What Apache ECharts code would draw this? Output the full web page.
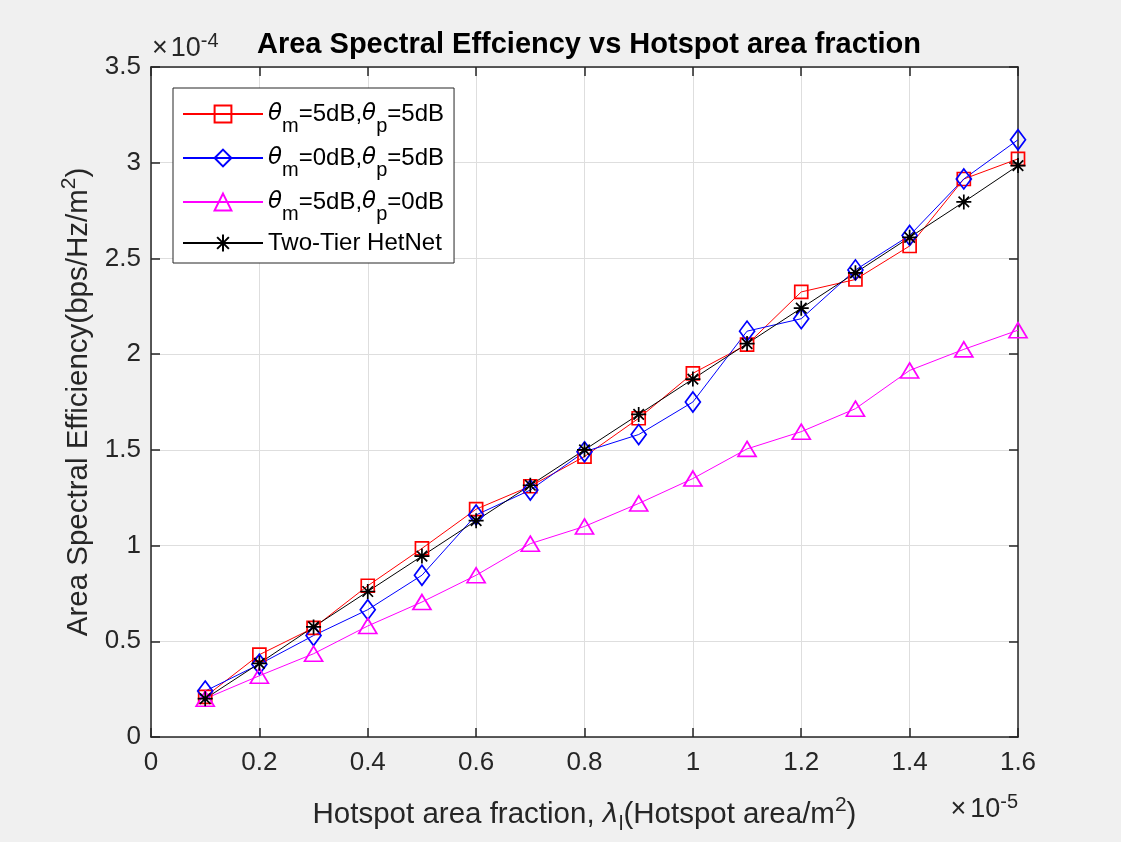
<!DOCTYPE html>
<html>
<head>
<meta charset="utf-8">
<script src="https://cdn.jsdelivr.net/npm/echarts@6/dist/echarts.min.js"></script>
<style>
html,body{margin:0;padding:0;background:#f0f0f0;}
#chart{width:1121px;height:842px;}
</style>
</head>
<body>
<div id="chart"></div>
<script>
// ---- data (x in units of 1e-5, y in units of 1e-4) ----
const xValues = [0.1, 0.2, 0.3, 0.4, 0.5, 0.6, 0.7, 0.8, 0.9, 1.0, 1.1, 1.2, 1.3, 1.4, 1.5, 1.6];
const redValues = [0.21, 0.43, 0.57, 0.79, 0.985, 1.19, 1.31, 1.465, 1.665, 1.90, 2.05, 2.325, 2.39, 2.565, 2.915, 3.02];
const blueValues = [0.24, 0.38, 0.53, 0.665, 0.845, 1.16, 1.29, 1.49, 1.58, 1.75, 2.12, 2.185, 2.44, 2.62, 2.915, 3.12];
const magentaValues = [0.20, 0.32, 0.435, 0.58, 0.705, 0.845, 1.01, 1.10, 1.22, 1.35, 1.505, 1.595, 1.715, 1.915, 2.025, 2.125];
const blackValues = [0.20, 0.385, 0.575, 0.76, 0.945, 1.13, 1.315, 1.50, 1.685, 1.87, 2.055, 2.24, 2.425, 2.61, 2.795, 2.985];
const seriesNames = ['s1', 's2', 's3', 's4'];
const legendTexts = {
  s1: '{th|θ}{sub|m}{t|=5dB,}{th|θ}{sub|p}{t|=5dB}',
  s2: '{th|θ}{sub|m}{t|=0dB,}{th|θ}{sub|p}{t|=5dB}',
  s3: '{th|θ}{sub|m}{t|=5dB,}{th|θ}{sub|p}{t|=0dB}',
  s4: '{t2|Two-Tier HetNet}'
};
const titleText = 'Area Spectral Effciency vs Hotspot area fraction';
const xTitle = '{t|Hotspot area fraction, }{it|λ}{sub|l}{t|(Hotspot area/m}{sup|2}{t|)}';
const yTitle = '{t|Area Spectral Efficiency(bps/Hz/m}{sup|2}{t|)}';

const FONT = '"Liberation Sans", Arial, Helvetica, sans-serif';
const AX = '#262626';

function pairs(ys){ return xValues.map((x,i)=>[x, ys[i]]); }
const fmt = v => String(+v.toFixed(2));

const asterisk = 'path://M8,0 L8,16 M0,8 L16,8 M2.4,2.4 L13.6,13.6 M2.4,13.6 L13.6,2.4';

function mkSeries(name, ys, color, symbol, size){
  return {
    name: name, type: 'line', data: pairs(ys),
    symbol: symbol, symbolSize: size, showSymbol: true,
    lineStyle: {color: color, width: 1},
    itemStyle: {color: 'rgba(255,255,255,0)', borderColor: color, borderWidth: 1.7},
    emphasis: {disabled: true},
    animation: false, z: 3
  };
}

const chart = echarts.init(document.getElementById('chart'));
const option = {
  backgroundColor: '#f0f0f0',
  animation: false,
  title: {
    text: titleText, left: 584, top: 25, textAlign: 'center',
    textStyle: {fontFamily: FONT, fontWeight: 'bold', fontSize: 29, color: '#000'}
  },
  grid: {left: 151, right: 103, top: 67, bottom: 105, show: true, backgroundColor: '#ffffff', borderWidth: 0},
  legend: {
    orient: 'vertical', left: 173, top: 88,
    backgroundColor: '#ffffff', borderColor: AX, borderWidth: 1,
    padding: [4, 10, 1, 9], itemGap: 0, itemWidth: 80, itemHeight: 21,
    data: seriesNames,
    formatter: n => legendTexts[n],
    textStyle: {
      fontFamily: FONT, fontSize: 24, color: '#000', lineHeight: 44,
      rich: {
        t: {fontFamily: FONT, fontSize: 24, color: '#000', lineHeight: 44},
        t2: {fontFamily: FONT, fontSize: 24, color: '#000', lineHeight: 38},
        th: {fontFamily: '"DejaVu Sans", sans-serif', fontStyle: 'italic', fontSize: 23, color: '#000', lineHeight: 44},
        sub: {fontFamily: FONT, fontSize: 20, color: '#000', lineHeight: 22, verticalAlign: 'bottom'}
      }
    }
  },
  xAxis: [{
    type: 'value', min: 0, max: 1.6, interval: 0.2, position: 'bottom',
    axisLine: {show: true, onZero: false, lineStyle: {color: AX, width: 1.5}},
    axisTick: {show: true, inside: true, length: 9, lineStyle: {color: AX, width: 1.5}},
    axisLabel: {formatter: fmt, fontFamily: FONT, fontSize: 26, color: AX, margin: 13},
    splitLine: {show: true, lineStyle: {color: '#dedede', width: 1}},
    name: xTitle, nameLocation: 'middle', nameGap: 58,
    nameTextStyle: {
      fontFamily: FONT, fontSize: 29.5, color: AX,
      rich: {
        t: {fontFamily: FONT, fontSize: 29.5, color: AX, lineHeight: 40},
        it: {fontFamily: '"DejaVu Sans", sans-serif', fontStyle: 'italic', fontSize: 27, color: AX, lineHeight: 40},
        sub: {fontFamily: FONT, fontSize: 21, color: AX, lineHeight: 20, verticalAlign: 'bottom'},
        sup: {fontFamily: FONT, fontSize: 21, color: AX, lineHeight: 22, verticalAlign: 'top'}
      }
    }
  }, {
    type: 'value', min: 0, max: 1.6, interval: 0.2, position: 'top',
    axisLine: {show: true, onZero: false, lineStyle: {color: AX, width: 1.5}},
    axisTick: {show: true, inside: true, length: 9, lineStyle: {color: AX, width: 1.5}},
    axisLabel: {show: false}, splitLine: {show: false}
  }],
  yAxis: [{
    type: 'value', min: 0, max: 3.5, interval: 0.5, position: 'left',
    axisLine: {show: true, onZero: false, lineStyle: {color: AX, width: 1.5}},
    axisTick: {show: true, inside: true, length: 9, lineStyle: {color: AX, width: 1.5}},
    axisLabel: {formatter: fmt, fontFamily: FONT, fontSize: 26, color: AX, margin: 10},
    splitLine: {show: true, lineStyle: {color: '#dedede', width: 1}},
    name: yTitle, nameLocation: 'middle', nameGap: 48, nameRotate: 90,
    nameTextStyle: {
      fontFamily: FONT, fontSize: 29.5, color: AX,
      rich: {
        t: {fontFamily: FONT, fontSize: 29.5, color: AX, lineHeight: 40},
        sup: {fontFamily: FONT, fontSize: 21, color: AX, lineHeight: 22, verticalAlign: 'top'}
      }
    }
  }, {
    type: 'value', min: 0, max: 3.5, interval: 0.5, position: 'right',
    axisLine: {show: true, onZero: false, lineStyle: {color: AX, width: 1.5}},
    axisTick: {show: true, inside: true, length: 9, lineStyle: {color: AX, width: 1.5}},
    axisLabel: {show: false}, splitLine: {show: false}
  }],
  graphic: [{
    type: 'text', left: 152, top: 31,
    style: {
      text: '{x|×}{n|10}{sup|-4}',
      rich: {
        x: {fontFamily: FONT, fontSize: 27, fill: AX, lineHeight: 36, padding: [0, 3, 0, 0]},
        n: {fontFamily: FONT, fontSize: 27, fill: AX, lineHeight: 36},
        sup: {fontFamily: FONT, fontSize: 20, fill: AX, lineHeight: 20, verticalAlign: 'top'}
      }
    }
  }, {
    type: 'text', right: 103, top: 792,
    style: {
      text: '{x|×}{n|10}{sup|-5}',
      rich: {
        x: {fontFamily: FONT, fontSize: 27, fill: AX, lineHeight: 36, padding: [0, 4, 0, 0]},
        n: {fontFamily: FONT, fontSize: 27, fill: AX, lineHeight: 36},
        sup: {fontFamily: FONT, fontSize: 20, fill: AX, lineHeight: 20, verticalAlign: 'top'}
      }
    }
  }],
  series: [
    mkSeries('s1', redValues, '#ff0000', 'rect', 13),
    mkSeries('s2', blueValues, '#0000ff', 'diamond', [15, 20]),
    mkSeries('s3', magentaValues, '#ff00ff', 'triangle', [18, 15]),
    mkSeries('s4', blackValues, '#000000', asterisk, 15)
  ]
};
chart.setOption(option);
</script>
</body>
</html>
